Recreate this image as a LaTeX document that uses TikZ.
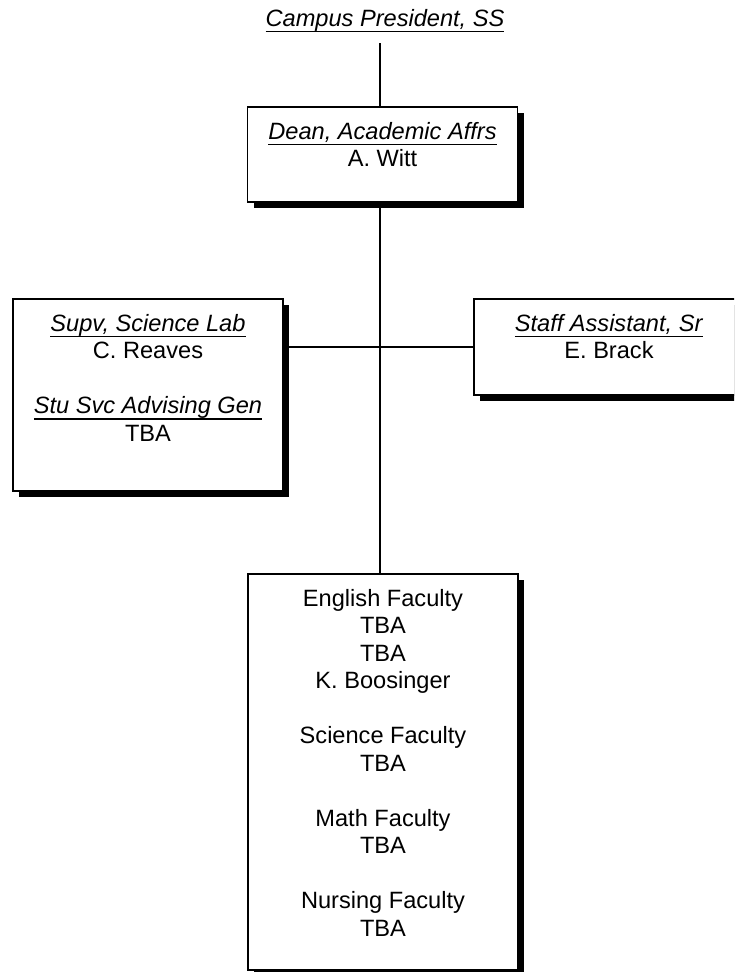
\documentclass[tikz,border=0pt]{standalone}
\usepackage{fontspec}
\setmainfont{Liberation Sans}
\usepackage{tikz}
\usetikzlibrary{positioning, shadows}

\newsavebox{\postbox}
\newcommand{\post}[1]{\sbox{\postbox}{\textit{#1}}%
    \rlap{\rule[-6pt]{\wd\postbox}{1.5pt}}\usebox{\postbox}}

\begin{document}
\begin{tikzpicture}[
    x=1pt, y=-1pt,
    unit/.style={rectangle, draw=black, line width=1.5pt, fill=white,
                 minimum width=270pt, inner sep=0pt,
                 drop shadow={shadow xshift=6pt, shadow yshift=-6pt,
                              fill=black, opacity=1}},
    txt/.style={align=center, inner sep=0pt,
                font=\fontsize{23.6pt}{27.5pt}\selectfont},
    link/.style={line width=1.5pt, black},
]

% Page frame
\useasboundingbox (0,0) rectangle (734,972);
\clip (0,0) rectangle (734,972);

\coordinate (spine) at (380,347);

% Top of the chart
\node[txt, anchor=base, text depth=17pt] (pres) at (385,26) {\post{Campus President, SS}};

% Boxes
\node[unit, minimum height=95pt] (dean) at (382.5,154.5) {};
\node[unit, minimum height=192pt] (lab) at (148,395) {};
\node[unit, minimum height=96pt] (staff) at (609,347) {};
\node[unit, minimum height=396pt] (faculty) at (383,772) {};

% Box texts
\node[txt, below=13.75pt of dean.north] (deantxt) {\strut\post{Dean, Academic Affrs}\\A. Witt};
\node[txt, below=13.75pt of lab.north] (labtxt) {\strut\post{Supv, Science Lab}\\C. Reaves\\[27.5pt]
    \post{Stu Svc Advising Gen}\\TBA};
\node[txt, below=13.75pt of staff.north] (stafftxt) {\strut\post{Staff Assistant, Sr}\\E. Brack};
\node[txt, below=13.75pt of faculty.north] (facultytxt) {\strut English Faculty\\TBA\\TBA\\K. Boosinger\\[27.5pt]
    Science Faculty\\TBA\\[27.5pt]
    Math Faculty\\TBA\\[27.5pt]
    Nursing Faculty\\TBA};

% Reporting lines
\draw[link] (pres.south -| spine) -- (dean.north -| spine);
\draw[link] (dean.south -| spine) -- (faculty.north -| spine);
\draw[link] (lab.east |- spine) -- (staff.west);

\end{tikzpicture}
\end{document}
